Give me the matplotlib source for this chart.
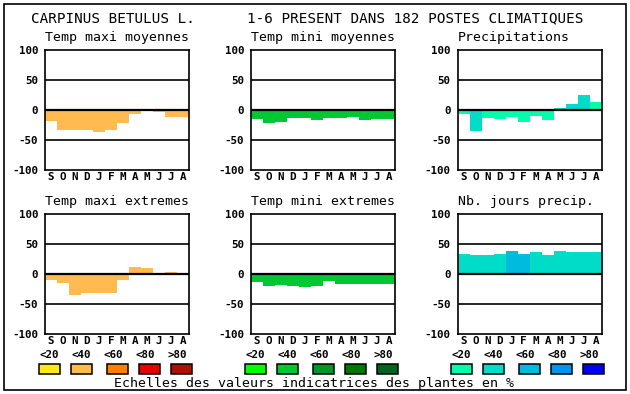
import matplotlib
matplotlib.use('Agg')
import matplotlib.pyplot as plt
from matplotlib.patches import Rectangle

W, H = 630, 394

months = list('SONDJFMAMJJA')
yticks = [-100, -50, 0, 50, 100]
class_labels = ['<20', '<40', '<60', '<80', '>80']

orange = ['#FFE81A', '#FFBB50', '#FF8000', '#E80000', '#B01000']
green = ['#00FF00', '#00C832', '#00962A', '#007800', '#006420']
blue = ['#00FFAA', '#00DCC8', '#00BBDD', '#0096F0', '#0000FF']

# values
tmax_moy = [-18, -34, -34, -33, -36, -33, -21, -6, 0, -4, -11, -11]
tmin_moy = [-15, -22, -20, -14, -14, -17, -14, -14, -12, -17, -15, -15]
precip = [-7, -35, -14, -15, -12, -20, -10, -17, 4, 10, 25, 14]
tmax_ext = [-10, -15, -35, -32, -32, -32, -10, 12, 10, -2, 4, 0]
tmin_ext = [-14, -20, -18, -20, -22, -20, -12, -17, -17, -16, -16, -17]
nb_jours = [34, 31, 31, 33, 38, 34, 36, 31, 38, 36, 36, 36]

# percentage class of each bar (index into the colour scale)
cls_tmax_moy = [1] * 12
cls_tmin_moy = [1] * 12
cls_precip = [0, 1, 0, 0, 0, 0, 0, 0, 1, 1, 1, 0]
cls_tmax_ext = [1] * 12
cls_tmin_ext = [1] * 12
cls_nb_jours = [1, 1, 1, 1, 2, 2, 1, 1, 1, 1, 1, 1]

mono = 'DejaVu Sans Mono'
small = 7.8

fig = plt.figure(figsize=(W / 100, H / 100), dpi=100)


def fx(x):
    return x / W


def fy(y):
    return 1 - y / H


def panel(x0, y0, title, vals, cls, pal):
    ax = fig.add_axes([fx(x0), fy(y0 + 120), 144 / W, 120 / H])
    ax.bar(range(12), vals, width=1.0, align='edge',
           color=[pal[c] for c in cls], linewidth=0, zorder=1)
    for yy in (50, -50):
        ax.axhline(yy, color='k', lw=1.2, zorder=2)
    ax.axhline(0, color='k', lw=1.6, zorder=2)
    ax.set_xlim(0, 12)
    ax.set_ylim(-100, 100)
    ax.set_yticks(yticks)
    ax.set_yticklabels([str(t) for t in yticks], fontfamily=mono,
                       fontweight='bold', fontsize=small)
    ax.set_xticks([i + 0.5 for i in range(12)])
    ax.set_xticklabels(months, fontfamily=mono, fontweight='bold', fontsize=small)
    ax.tick_params(length=0)
    ax.tick_params(axis='y', pad=5)
    ax.tick_params(axis='x', pad=1.5)
    for s in ax.spines.values():
        s.set_linewidth(1.2)
    fig.text(fx(x0), fy(y0 - 8.5), title, fontfamily=mono, fontsize=9.5,
             va='baseline', ha='left')
    return ax


lefts = [45, 251, 457.7]
panel(lefts[0], 50, 'Temp maxi moyennes', tmax_moy, cls_tmax_moy, orange)
panel(lefts[1], 50, 'Temp mini moyennes', tmin_moy, cls_tmin_moy, green)
panel(lefts[2], 50, 'Precipitations', precip, cls_precip, blue)
panel(lefts[0], 214, 'Temp maxi extremes', tmax_ext, cls_tmax_ext, orange)
panel(lefts[1], 214, 'Temp mini extremes', tmin_ext, cls_tmin_ext, green)
panel(lefts[2], 214, 'Nb. jours precip.', nb_jours, cls_nb_jours, blue)

# header
fig.text(fx(31), fy(22.7), 'CARPINUS BETULUS L.', fontfamily=mono,
         fontsize=10.3, va='baseline', ha='left')
fig.text(fx(247), fy(22.7), '1-6 PRESENT DANS 182 POSTES CLIMATIQUES',
         fontfamily=mono, fontsize=10.3, va='baseline', ha='left')

# colour scales
offsets = [0, 32, 68, 100, 132]
label_offsets = [0, 32, 64, 96, 128]
for x0, pal in zip([39, 245, 451], [orange, green, blue]):
    for i in range(5):
        fig.text(fx(x0 + label_offsets[i] + 10), fy(357.7), class_labels[i],
                 fontfamily=mono, fontweight='bold', fontsize=small,
                 ha='center', va='baseline')
        fig.patches.append(Rectangle((fx(x0 + offsets[i]), fy(373.5)),
                                     20.5 / W, 9.5 / H, facecolor=pal[i],
                                     edgecolor='k', lw=1.1,
                                     transform=fig.transFigure, figure=fig))

fig.text(fx(314.5), fy(386.5),
         'Echelles des valeurs indicatrices des plantes en %',
         fontfamily=mono, fontsize=9.5, ha='center', va='baseline')

# outer frame
fig.patches.append(Rectangle((fx(4), fy(390)), 622 / W, 386 / H,
                             facecolor='none', edgecolor='k', lw=1.2,
                             transform=fig.transFigure, figure=fig))

fig.savefig('out.png', dpi=100)
